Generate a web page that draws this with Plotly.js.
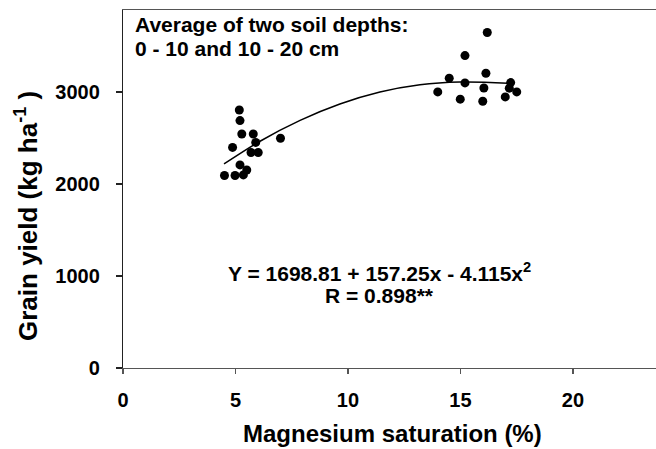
<!DOCTYPE html>
<html>
<head>
<meta charset="utf-8">
<script src="https://cdn.plot.ly/plotly-3.0.1.min.js"></script>
<style>html,body{margin:0;padding:0;background:#fff;}#chart{width:656px;height:449px;}</style>
</head>
<body>
<div id="chart"></div>
<script>
// Observed data: magnesium saturation (%) vs grain yield (kg/ha)
const mgSat = [5.17, 5.20, 5.28, 5.79, 5.90, 4.87, 7.00, 5.69, 6.01, 5.20, 5.50, 4.51, 4.98, 5.35,
               16.19, 15.20, 16.13, 14.50, 15.20, 16.04, 13.99, 14.99, 15.99, 17.23, 17.17, 17.50, 16.99];
const grainYield = [2804, 2688, 2543, 2543, 2451, 2397, 2497, 2342, 2342, 2207, 2152, 2092, 2092, 2098,
                    3645, 3395, 3203, 3149, 3098, 3043, 3000, 2921, 2899, 3101, 3041, 3000, 2946];

// Fitted curve
const fitX = [4.49, 6.09, 7.87, 9.64, 11.42, 13.2, 14.98, 17.11];
const fitY = [2217, 2464, 2690, 2868, 2998, 3077, 3107, 3095];

const xTicks = [0, 5, 10, 15, 20];
const yTicks = [0, 1000, 2000, 3000];

const FONT = 'Liberation Sans, Arial, sans-serif';

const traces = [
  {x: fitX, y: fitY, type: 'scatter', mode: 'lines',
   line: {color: '#000', width: 1.5, shape: 'spline', smoothing: 1}, hoverinfo: 'skip'},
  {x: mgSat, y: grainYield, type: 'scatter', mode: 'markers',
   marker: {color: '#000', size: 9}, hoverinfo: 'skip'}
];

const layout = {
  width: 656, height: 449,
  margin: {l: 123, r: 0, t: 10, b: 81},
  paper_bgcolor: '#fff', plot_bgcolor: '#fff',
  showlegend: false,
  font: {family: FONT, color: '#000'},
  xaxis: {
    range: [0, 23.69], tickvals: xTicks, ticktext: xTicks.map(String),
    showgrid: false, zeroline: false,
    showline: true, linecolor: '#555', linewidth: 1.2, mirror: true,
    ticks: 'outside', ticklen: 5, tickcolor: '#555', tickwidth: 1.2,
    ticklabelstandoff: 9,
    tickfont: {family: FONT, size: 20, weight: 'bold', color: '#000'}
  },
  yaxis: {
    range: [0, 3890], tickvals: yTicks, ticktext: yTicks.map(String),
    showgrid: false, zeroline: false,
    showline: true, linecolor: '#222', linewidth: 1.2,
    ticks: 'outside', ticklen: 6, tickcolor: '#222', tickwidth: 1.2,
    ticklabelstandoff: 12,
    tickfont: {family: FONT, size: 20, weight: 'bold', color: '#000'}
  },
  annotations: [
    {xref: 'paper', yref: 'paper', x: (392 - 123) / 533, y: -(433 - 368) / 358,
     xanchor: 'center', yanchor: 'middle', showarrow: false,
     text: 'Magnesium saturation (%)',
     font: {family: FONT, size: 24, weight: 'bold', color: '#000'}},
    {xref: 'paper', yref: 'paper', x: -(123 - 26) / 533, y: (368 - 216) / 358,
     xanchor: 'center', yanchor: 'middle', showarrow: false, textangle: -90,
     text: 'Grain yield (kg ha<sup>-1</sup> )',
     font: {family: FONT, size: 26, weight: 'bold', color: '#000'}},
    {xref: 'x', yref: 'y', x: 0.44, y: 3728, xanchor: 'left', yanchor: 'middle', showarrow: false,
     text: 'Average of two soil depths:',
     font: {family: FONT, size: 21, weight: 'bold', color: '#000'}},
    {xref: 'x', yref: 'y', x: 0.44, y: 3467, xanchor: 'left', yanchor: 'middle', showarrow: false,
     text: '0 - 10 and 10 - 20 cm',
     font: {family: FONT, size: 21, weight: 'bold', color: '#000'}},
    {xref: 'x', yref: 'y', x: 11.42, y: 1040, xanchor: 'center', yanchor: 'middle', showarrow: false,
     text: 'Y = 1698.81 + 157.25x - 4.115x<sup>2</sup>',
     font: {family: FONT, size: 21, weight: 'bold', color: '#000'}},
    {xref: 'x', yref: 'y', x: 11.42, y: 783, xanchor: 'center', yanchor: 'middle', showarrow: false,
     text: 'R = 0.898**',
     font: {family: FONT, size: 21, weight: 'bold', color: '#000'}}
  ]
};

Plotly.newPlot('chart', traces, layout, {staticPlot: true, displayModeBar: false});
</script>
</body>
</html>
